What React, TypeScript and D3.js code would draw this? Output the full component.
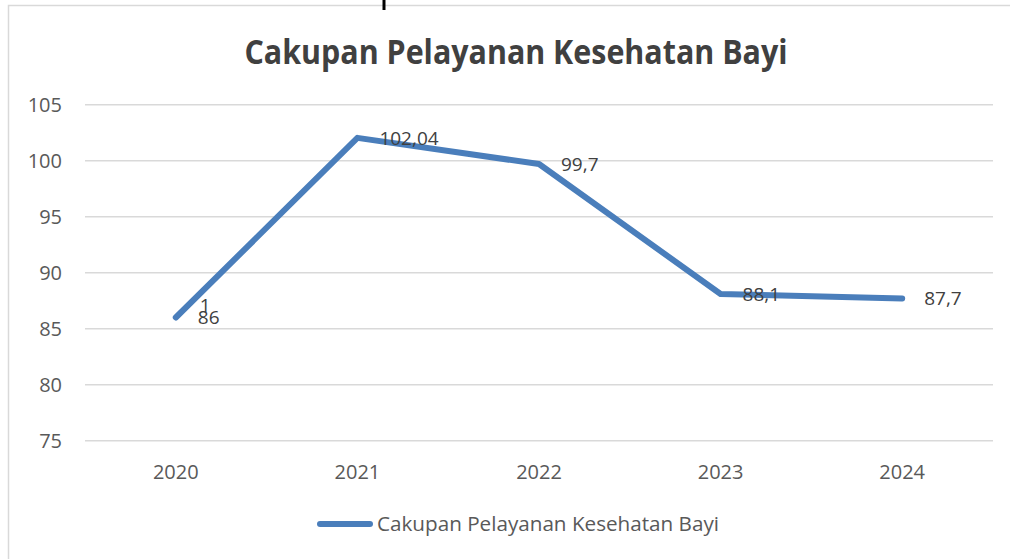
import React from "react";
import * as d3 from "d3";

const years = ["2020", "2021", "2022", "2023", "2024"];
const values = [86, 102.04, 99.7, 88.1, 87.7];
const labelLines = [["1", "86"], ["102,04"], ["99,7"], ["88,1"], ["87,7"]];
const yTicks = [75, 80, 85, 90, 95, 100, 105];
const seriesName = "Cakupan Pelayanan Kesehatan Bayi";
const title = "Cakupan Pelayanan Kesehatan Bayi";

const W = 1010;
const H = 559;
const FONT = "'Open Sans', 'Noto Sans', sans-serif";

export default function App() {
  const x = d3.scaleBand<string>().domain(years).range([85, 993]);
  const y = d3.scaleLinear().domain([75, 105]).range([440.7, 104.7]);
  const cx = (d: string) => (x(d) ?? 0) + x.bandwidth() / 2;
  const line = d3
    .line<number>()
    .x((_, i) => cx(years[i]))
    .y((v) => y(v));
  const color = "#4a7ebb";

  return (
    <svg
      width={W}
      height={H}
      style={{ position: "absolute", left: 0, top: 0, background: "#fff" }}
      fontFamily={FONT}
    >
      <rect x={0} y={0} width={W} height={H} fill="#fff" />
      <rect x={8.5} y={5.5} width={W + 20} height={H + 20} fill="#fff" stroke="#d9d9d9" strokeWidth={1.5} />
      <line x1={384} x2={384} y1={0} y2={10} stroke="#000" strokeWidth={3} />
      <text
        x={516}
        y={64}
        textAnchor="middle"
        fontSize={34}
        fontWeight="bold"
        fill="#404040"
        textLength={543}
        lengthAdjust="spacingAndGlyphs"
      >
        {title}
      </text>
      {yTicks.map((t) => (
        <g key={t}>
          <line x1={85} x2={993} y1={y(t)} y2={y(t)} stroke="#d9d9d9" strokeWidth={1.5} />
          <text x={62} y={y(t)} dy="0.35em" textAnchor="end" fontSize={20} fill="#595959">
            {t}
          </text>
        </g>
      ))}
      {years.map((yr) => (
        <text key={yr} x={cx(yr)} y={472} dy="0.35em" textAnchor="middle" fontSize={20} fill="#595959">
          {yr}
        </text>
      ))}
      <path
        d={line(values) ?? ""}
        fill="none"
        stroke={color}
        strokeWidth={6}
        strokeLinecap="round"
        strokeLinejoin="round"
      />
      {values.map((v, i) => {
        const lines = labelLines[i];
        return (
          <text key={i} x={cx(years[i]) + 22} y={y(v)} fontSize={19} fill="#404040">
            {lines.map((s, j) => (
              <tspan
                key={j}
                x={cx(years[i]) + 22 + (lines.length > 1 && j === 0 ? 2 : 0)}
                y={y(v) + (j - (lines.length - 1)) * 12}
                dy="0.35em"
              >
                {s}
              </tspan>
            ))}
          </text>
        );
      })}
      <line x1={320} x2={370} y1={524} y2={524} stroke={color} strokeWidth={6} strokeLinecap="round" />
      <text x={377} y={524} dy="0.35em" fontSize={20} fill="#595959" textLength={342} lengthAdjust="spacingAndGlyphs">
        {seriesName}
      </text>
    </svg>
  );
}
